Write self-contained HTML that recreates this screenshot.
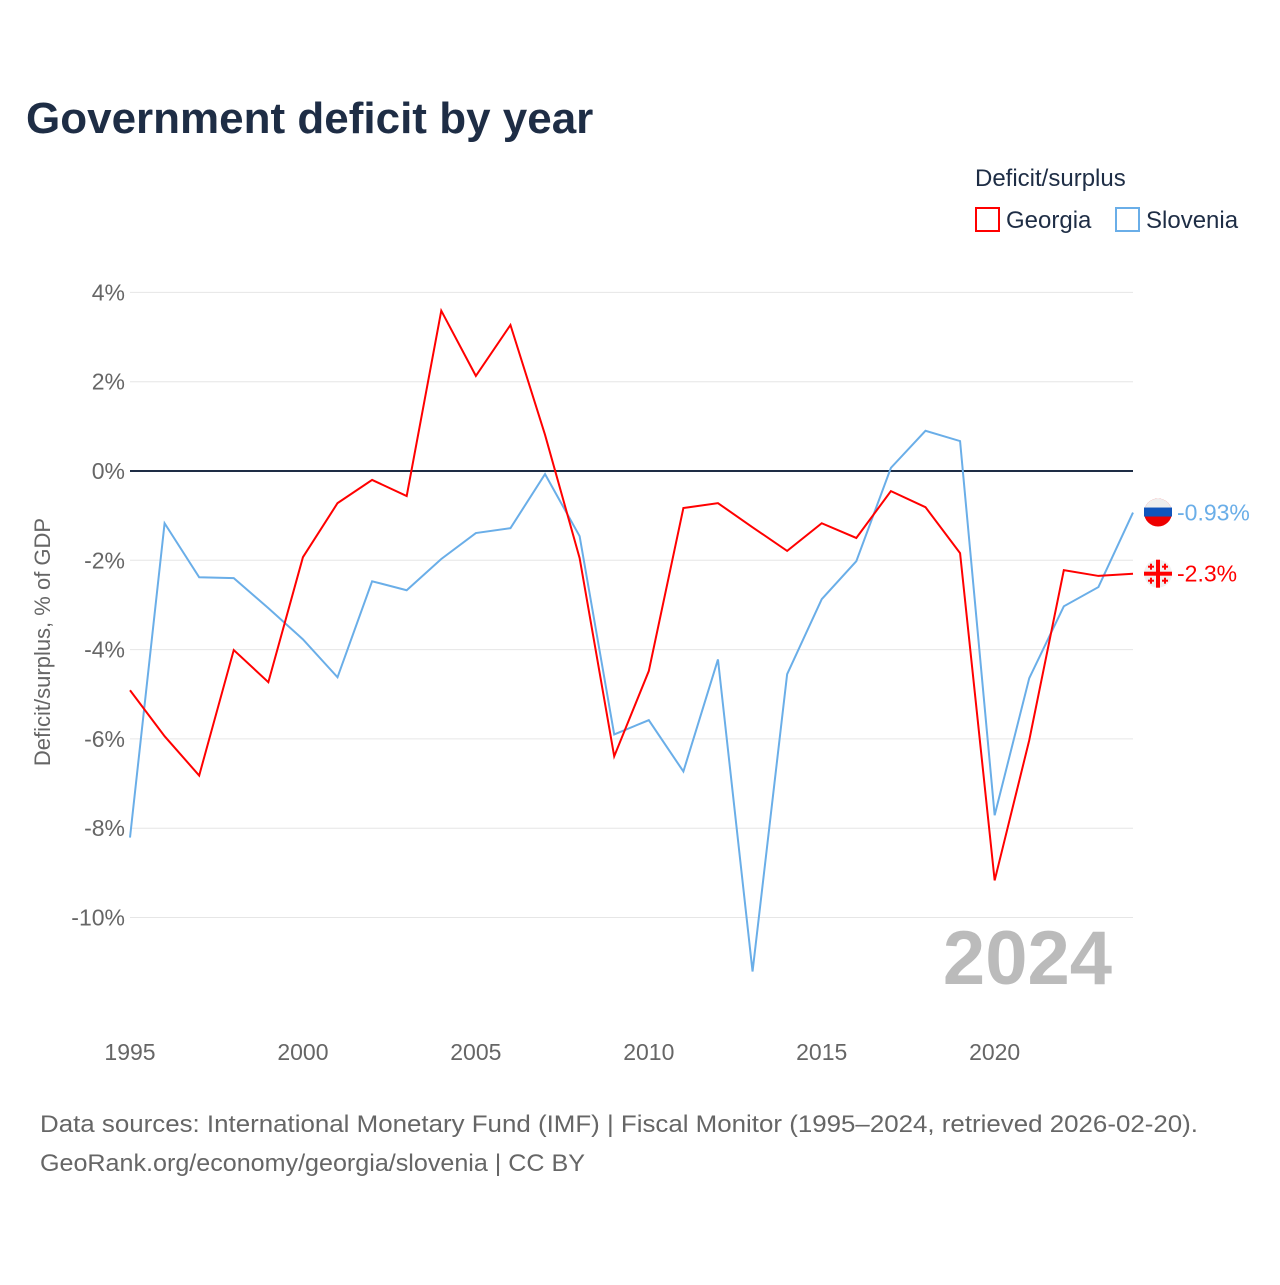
<!DOCTYPE html>
<html><head><meta charset="utf-8"><style>
body{margin:0;background:#fff;font-family:"Liberation Sans",sans-serif;}
</style></head><body>
<svg width="1280" height="1280" viewBox="0 0 1280 1280" xmlns="http://www.w3.org/2000/svg">
<rect width="1280" height="1280" fill="#fff"/>
<text x="26" y="133" font-size="44" font-weight="bold" fill="#1e2d45">Government deficit by year</text>
<text x="975" y="186" font-size="24" fill="#1e2d45">Deficit/surplus</text>
<g><rect x="976" y="208" width="23" height="23" fill="none" stroke="#f00" stroke-width="2"/><text x="1006" y="228" font-size="24" fill="#1e2d45">Georgia</text></g>
<g><rect x="1116" y="208" width="23" height="23" fill="none" stroke="#6aaee8" stroke-width="2"/><text x="1146" y="228" font-size="24" fill="#1e2d45">Slovenia</text></g>
<g id="grid"></g>
<g id="xt"></g>
<text transform="translate(50,642) rotate(-90)" text-anchor="middle" font-size="22" fill="#666">Deficit/surplus, % of GDP</text>
<text x="1112" y="984" text-anchor="end" font-size="76" font-weight="bold" fill="#bbb">2024</text>
<g id="lines"></g>
<text x="40" y="1132" font-size="24" fill="#666" textLength="1158" lengthAdjust="spacingAndGlyphs">Data sources: International Monetary Fund (IMF) | Fiscal Monitor (1995–2024, retrieved 2026-02-20).</text>
<text x="40" y="1171" font-size="24" fill="#666" textLength="545" lengthAdjust="spacingAndGlyphs">GeoRank.org/economy/georgia/slovenia | CC BY</text>
</svg>
<script>
const years=[];for(let y=1995;y<=2024;y++)years.push(y);
const georgia=[-4.91,-5.94,-6.82,-4.01,-4.73,-1.93,-0.72,-0.2,-0.56,3.59,2.13,3.27,0.81,-1.95,-6.39,-4.48,-0.83,-0.72,-1.26,-1.79,-1.17,-1.5,-0.45,-0.81,-1.84,-9.17,-6.03,-2.22,-2.35,-2.3];
const slovenia=[-8.21,-1.17,-2.38,-2.4,-3.07,-3.77,-4.62,-2.47,-2.67,-1.97,-1.39,-1.28,-0.07,-1.46,-5.9,-5.58,-6.73,-4.22,-11.21,-4.55,-2.87,-2.02,0.07,0.9,0.67,-7.71,-4.64,-3.03,-2.6,-0.93];
const yTicks=[4,2,0,-2,-4,-6,-8,-10];
const xTicks=[1995,2000,2005,2010,2015,2020];
const NS="http://www.w3.org/2000/svg";
const x=v=>130+(v-1995)*(1133-130)/29;
const y=v=>471-v*44.65;
function mk(tag,attrs,parent){const e=document.createElementNS(NS,tag);for(const k in attrs)e.setAttribute(k,attrs[k]);parent.appendChild(e);return e;}
const grid=document.getElementById('grid');
yTicks.forEach(t=>{
 const l=mk('line',{x1:130,x2:1133,y1:y(t),y2:y(t),stroke:t===0?'#1e2d45':'#e6e6e6','stroke-width':t===0?2:1},grid);
 
 
 const tx=mk('text',{x:125,y:y(t)+8,'text-anchor':'end','font-size':23,fill:'#666'},grid);
 tx.textContent=t+'%';
 
 
});
const xt=document.getElementById('xt');
xTicks.forEach(t=>{
 const tx=mk('text',{x:x(t),y:1060,'text-anchor':'middle','font-size':23,fill:'#666'},xt);
 tx.textContent=t;
 
 
});
const lines=document.getElementById('lines');
function series(vals,color,name){
 const p=mk('polyline',{points:vals.map((v,i)=>x(years[i])+','+y(v)).join(' '),fill:'none',stroke:color,'stroke-width':2},lines);
 
 
}
series(slovenia,'#6aaee8','slovenia-line');
series(georgia,'#f00','georgia-line');
const ls=slovenia[slovenia.length-1], lg=georgia[georgia.length-1];
const fs=mk('g',{},lines);


const cy1=y(ls);
mk('circle',{cx:1158,cy:cy1,r:14,fill:'#e00'},fs);
mk('path',{d:`M1144 ${cy1} A14 14 0 0 1 1172 ${cy1} Z`,fill:'#eee'},fs);
mk('rect',{x:1144,y:cy1-5,width:28,height:9,fill:'#1155bb'},fs);
const ts=mk('text',{x:1177,y:cy1+8,'font-size':23,fill:'#6aaee8'},lines);
ts.textContent=ls+'%';


const fg=mk('g',{},lines);


const cy2=y(lg);
mk('circle',{cx:1158,cy:cy2,r:14,fill:'#f0f0f0'},fg);
mk('rect',{x:1144,y:cy2-2,width:28,height:4,fill:'#f00'},fg);
mk('rect',{x:1156,y:cy2-14,width:4,height:28,fill:'#f00'},fg);
[[-7,-7],[7,-7],[-7,7],[7,7]].forEach(([dx,dy])=>{mk('rect',{x:1158+dx-1,y:cy2+dy-3,width:2,height:6,fill:'#f00'},fg);mk('rect',{x:1158+dx-3,y:cy2+dy-1,width:6,height:2,fill:'#f00'},fg);});
const tg=mk('text',{x:1177,y:cy2+8,'font-size':23,fill:'#f00'},lines);
tg.textContent=lg+'%';


</script>
</body></html>
